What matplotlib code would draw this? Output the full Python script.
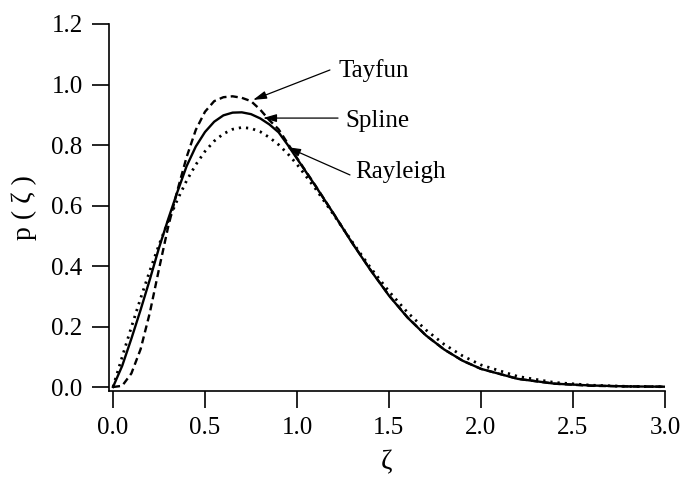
import matplotlib
matplotlib.use("Agg")
import matplotlib.pyplot as plt

# zeta grid shared by the three densities
zeta = [0.00, 0.05, 0.10, 0.15, 0.20, 0.25, 0.30, 0.35, 0.40, 0.45, 0.50,
        0.55, 0.60, 0.65, 0.70, 0.75, 0.80, 0.85, 0.90, 0.95, 1.00,
        1.1, 1.2, 1.3, 1.4, 1.5, 1.6, 1.7, 1.8, 1.9, 2.0,
        2.2, 2.4, 2.6, 2.8, 3.0]

p_rayleigh = [0.000, 0.100, 0.198, 0.293, 0.384, 0.470, 0.548, 0.619, 0.682, 0.735, 0.779,
              0.813, 0.837, 0.852, 0.858, 0.855, 0.844, 0.825, 0.801, 0.771, 0.736,
              0.656, 0.569, 0.480, 0.394, 0.316, 0.247, 0.189, 0.141, 0.103, 0.073,
              0.035, 0.015, 0.006, 0.002, 0.001]

p_spline = [0.000, 0.070, 0.160, 0.255, 0.355, 0.460, 0.555, 0.645, 0.730, 0.795, 0.843,
            0.877, 0.898, 0.907, 0.908, 0.902, 0.888, 0.868, 0.842, 0.800, 0.755,
            0.665, 0.572, 0.476, 0.386, 0.302, 0.230, 0.171, 0.124, 0.087, 0.060,
            0.027, 0.011, 0.005, 0.002, 0.001]

p_tayfun = [0.000, 0.004, 0.045, 0.125, 0.245, 0.390, 0.530, 0.650, 0.760, 0.850, 0.910,
            0.945, 0.958, 0.961, 0.956, 0.945, 0.917, 0.882, 0.852, 0.805, 0.757,
            0.666, 0.572, 0.477, 0.387, 0.303, 0.231, 0.171, 0.124, 0.087, 0.060,
            0.027, 0.011, 0.004, 0.002, 0.001]

# labels: name, arrow head, arrow tail, text position
labels = ["Tayfun", "Spline", "Rayleigh"]
heads = [(0.761, 0.949), (0.815, 0.889), (0.946, 0.793)]
tails = [(1.179, 1.048), (1.223, 0.889), (1.288, 0.701)]
text_pos = [(1.223, 1.025), (1.261, 0.860), (1.315, 0.690)]

xticks = [0.0, 0.5, 1.0, 1.5, 2.0, 2.5, 3.0]
yticks = [0.0, 0.2, 0.4, 0.6, 0.8, 1.0, 1.2]

plt.rcParams['font.family'] = ['Liberation Serif', 'DejaVu Serif']
plt.rcParams['font.size'] = 18

fig = plt.figure(figsize=(6.83, 4.79), dpi=100)
ax = fig.add_axes([0.1596, 0.1837, 0.814, 0.7662])

ax.plot(zeta, p_rayleigh, color='black', lw=2.0, linestyle=(0, (0.8, 1.8)))
ax.plot(zeta, p_tayfun, color='black', lw=1.7, linestyle=(0, (3.0, 1.8)))
ax.plot(zeta, p_spline, color='black', lw=1.7)

for name, h, t, tp in zip(labels, heads, tails, text_pos):
    ax.annotate("", xy=h, xytext=t,
                arrowprops=dict(arrowstyle='-|>,head_length=0.45,head_width=0.13',
                                color='black', lw=0.9, shrinkA=0, shrinkB=0))
    ax.text(tp[0], tp[1], name, ha='left', va='baseline')

ax.set_xlim(-0.0217, 3.0)
ax.set_ylim(-0.0132, 1.2)
ax.set_xticks(xticks)
ax.set_yticks(yticks)
ax.set_xticklabels(["%.1f" % v for v in xticks])
ax.set_yticklabels(["%.1f" % v for v in yticks])

for s in ['top', 'right']:
    ax.spines[s].set_visible(False)
for s in ['left', 'bottom']:
    ax.spines[s].set_linewidth(1.2)
ax.tick_params(direction='out', length=12, width=1.2, pad=7)

ax.set_xlabel("ζ", fontsize=20, labelpad=8)
ax.set_ylabel("p ( ζ )", fontsize=20, labelpad=10)

fig.savefig("out.png", dpi=100)
